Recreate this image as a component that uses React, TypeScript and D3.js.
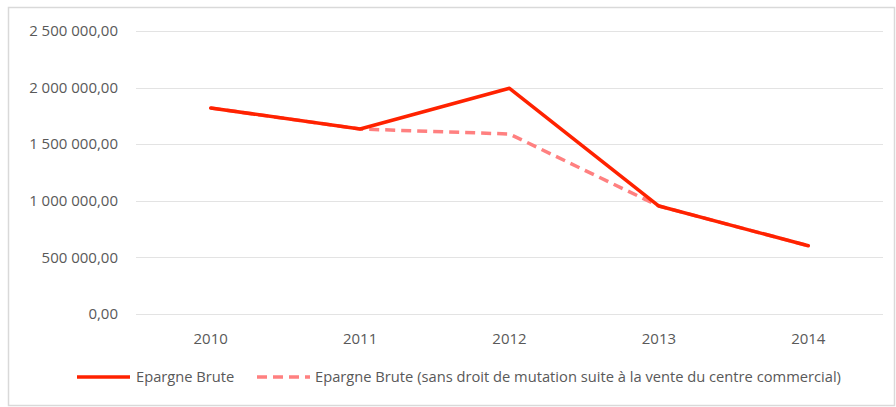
import React from "react";
import * as d3 from "d3";

const years = ["2010", "2011", "2012", "2013", "2014"];
const epargneBrute = [1820000, 1634000, 1994000, 954000, 603000];
const epargneSansDroit = [1820000, 1634000, 1590000, 954000, 603000];
const yTicks = [0, 500000, 1000000, 1500000, 2000000, 2500000];
const legendLabels = [
  "Epargne Brute",
  "Epargne Brute (sans droit de mutation suite à la vente du centre commercial)",
];

const W = 896;
const H = 407;
const FONT = "'Open Sans', Lato, sans-serif";

const fmt = (v: number) => {
  const s = Math.round(v).toString().replace(/\B(?=(\d{3})+(?!\d))/g, " ");
  return s + ",00";
};

export default function App() {
  const x = d3.scaleBand().domain(years).range([136, 883]);
  const y = d3.scaleLinear().domain([0, 2500000]).range([314, 31]);
  const cx = (d: string) => (x(d) as number) + x.bandwidth() / 2;
  const line = d3
    .line<number>()
    .x((_, i) => cx(years[i]))
    .y((v) => y(v));

  return (
    <svg
      width={W}
      height={H}
      style={{ position: "absolute", left: 0, top: 0 }}
      fontFamily={FONT}
    >
      <rect x={0} y={0} width={W} height={H} fill="#fff" />
      <rect x={8.5} y={7.5} width={886} height={398} fill="#fff" stroke="#d9d9d9" strokeWidth={1.5} />
      {yTicks.map((t) => (
        <g key={t}>
          <line x1={136} x2={883} y1={Math.round(y(t)) + 0.5} y2={Math.round(y(t)) + 0.5} stroke="#e3e3e3" strokeWidth={1} />
          <text x={118} y={y(t)} dy="0.35em" textAnchor="end" fontSize={15} fill="#595959">
            {fmt(t)}
          </text>
        </g>
      ))}
      {years.map((yr) => (
        <text key={yr} x={cx(yr)} y={344} textAnchor="middle" fontSize={15} fill="#595959">
          {yr}
        </text>
      ))}
      <path d={line(epargneSansDroit) || ""} fill="none" stroke="#ff8080" strokeWidth={3.5} strokeDasharray="10,6" strokeLinejoin="round" />
      <path d={line(epargneBrute) || ""} fill="none" stroke="#ff2200" strokeWidth={3.5} strokeLinejoin="round" strokeLinecap="round" />
      <g>
        <line x1={77} x2={130} y1={377} y2={377} stroke="#ff2200" strokeWidth={3.5} />
        <text x={136} y={377} dy="0.35em" fontSize={14.7} fill="#595959">
          {legendLabels[0]}
        </text>
        <line x1={257} x2={310} y1={377} y2={377} stroke="#ff8080" strokeWidth={3.5} strokeDasharray="10,6" />
        <text x={315} y={377} dy="0.35em" fontSize={14.7} fill="#595959">
          {legendLabels[1]}
        </text>
      </g>
    </svg>
  );
}
